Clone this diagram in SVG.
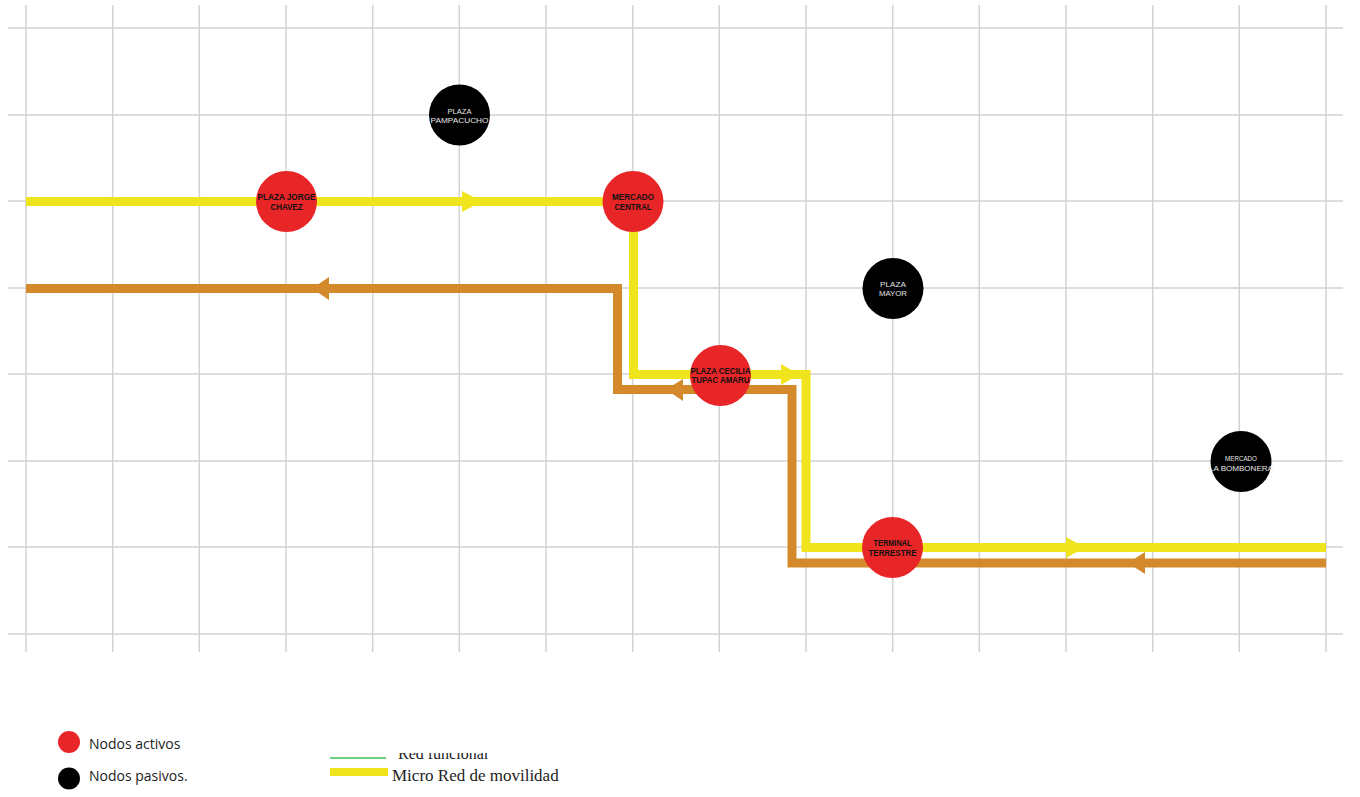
<svg xmlns="http://www.w3.org/2000/svg" width="1360" height="797" viewBox="0 0 1360 797">
<style>
.grid line{stroke:#d2d2d2;stroke-width:1.5}
.yl{fill:none;stroke:#f0e51c;stroke-width:9;stroke-linejoin:miter}
.ol{fill:none;stroke:#d4892b;stroke-width:9;stroke-linejoin:miter}
.ya{fill:#f0e51c}
.oa{fill:#d4892b}
.act{fill:#e82527}
.pas{fill:#000}
.ta{font-family:"Liberation Sans",Arial,sans-serif;font-weight:bold;font-size:8.5px;fill:#111;text-anchor:middle}
.tp{font-family:"Liberation Sans",Arial,sans-serif;font-size:7.5px;fill:#e6e6e6;text-anchor:middle}
.lg{font-family:"Open Sans","Liberation Sans",sans-serif;font-size:14px;fill:#222}
.ls{font-family:"Liberation Serif","Times New Roman",serif;font-size:17px;fill:#222}
</style>
<defs>
<clipPath id="cutRed"><rect x="390" y="753" width="120" height="7"/></clipPath>
</defs>
<rect width="1360" height="797" fill="#fff"/>
<g class="grid">
<line x1="26" y1="5" x2="26" y2="652"/>
<line x1="112.7" y1="5" x2="112.7" y2="652"/>
<line x1="199.3" y1="5" x2="199.3" y2="652"/>
<line x1="286" y1="5" x2="286" y2="652"/>
<line x1="372.7" y1="5" x2="372.7" y2="652"/>
<line x1="459.3" y1="5" x2="459.3" y2="652"/>
<line x1="546" y1="5" x2="546" y2="652"/>
<line x1="632.7" y1="5" x2="632.7" y2="652"/>
<line x1="719.3" y1="5" x2="719.3" y2="652"/>
<line x1="806" y1="5" x2="806" y2="652"/>
<line x1="892.7" y1="5" x2="892.7" y2="652"/>
<line x1="979.3" y1="5" x2="979.3" y2="652"/>
<line x1="1066" y1="5" x2="1066" y2="652"/>
<line x1="1152.7" y1="5" x2="1152.7" y2="652"/>
<line x1="1239.3" y1="5" x2="1239.3" y2="652"/>
<line x1="1326" y1="5" x2="1326" y2="652"/>
<line x1="8" y1="28" x2="1343" y2="28"/>
<line x1="8" y1="115" x2="1343" y2="115"/>
<line x1="8" y1="201" x2="1343" y2="201"/>
<line x1="8" y1="288" x2="1343" y2="288"/>
<line x1="8" y1="374" x2="1343" y2="374"/>
<line x1="8" y1="461" x2="1343" y2="461"/>
<line x1="8" y1="547" x2="1343" y2="547"/>
<line x1="8" y1="634" x2="1343" y2="634"/>
</g>
<g id="connectors">
<path class="ol" d="M26 288.5 H617.5 V389.5 H792 V563 H1326"/>
<path class="yl" d="M26 201.5 H633.5 V374.5 H806 V547.5 H1326"/>
<polygon class="ya" points="462,191 482,201.5 462,212"/>
<polygon class="ya" points="781,364 799,374.5 781,385"/>
<polygon class="ya" points="1066,537 1085,547.5 1066,558"/>
<polygon class="oa" points="329,277 312,288.5 329,300"/>
<polygon class="oa" points="683,379 666,389.5 683,401"/>
<polygon class="oa" points="1145,552 1128,563 1145,574"/>
</g>
<g id="n-jorge">
<circle class="act" cx="286.5" cy="201.5" r="30.5"/>
<text class="ta" x="286.5" y="200" textLength="58" lengthAdjust="spacingAndGlyphs">PLAZA JORGE</text>
<text class="ta" x="286.5" y="209.5" textLength="32" lengthAdjust="spacingAndGlyphs">CHAVEZ</text>
</g>
<g id="n-mercado-central">
<circle class="act" cx="633" cy="201.5" r="30.5"/>
<text class="ta" x="633" y="200" textLength="42" lengthAdjust="spacingAndGlyphs">MERCADO</text>
<text class="ta" x="633" y="209.5" textLength="37" lengthAdjust="spacingAndGlyphs">CENTRAL</text>
</g>
<g id="n-cecilia">
<circle class="act" cx="720.5" cy="375.5" r="30.5"/>
<text class="ta" x="720.5" y="373.5" textLength="60" lengthAdjust="spacingAndGlyphs">PLAZA CECILIA</text>
<text class="ta" x="720.5" y="383" textLength="58" lengthAdjust="spacingAndGlyphs">TUPAC AMARU</text>
</g>
<g id="n-terminal">
<circle class="act" cx="892.5" cy="547.5" r="30.5"/>
<text class="ta" x="892.5" y="546" textLength="38" lengthAdjust="spacingAndGlyphs">TERMINAL</text>
<text class="ta" x="892.5" y="555.5" textLength="48" lengthAdjust="spacingAndGlyphs">TERRESTRE</text>
</g>
<g id="n-pampacucho">
<circle class="pas" cx="459.5" cy="115" r="30.5"/>
<text class="tp" x="459.5" y="113.5" textLength="24" lengthAdjust="spacingAndGlyphs">PLAZA</text>
<text class="tp" x="459.5" y="123" textLength="58" lengthAdjust="spacingAndGlyphs">PAMPACUCHO</text>
</g>
<g id="n-plaza-mayor">
<circle class="pas" cx="893" cy="288.5" r="30.5"/>
<text class="tp" x="893" y="286.5" textLength="26" lengthAdjust="spacingAndGlyphs">PLAZA</text>
<text class="tp" x="893" y="296" textLength="28" lengthAdjust="spacingAndGlyphs">MAYOR</text>
</g>
<g id="n-bombonera">
<circle class="pas" cx="1241" cy="461.5" r="30.5"/>
<text class="tp" x="1241" y="461" textLength="32" lengthAdjust="spacingAndGlyphs">MERCADO</text>
<text class="tp" x="1241" y="471" textLength="64" lengthAdjust="spacingAndGlyphs">LA BOMBONERA</text>
</g>
<g id="legend">
<circle class="act" cx="69" cy="742" r="11"/>
<text class="lg" x="89" y="749">Nodos activos</text>
<circle class="pas" cx="69" cy="778.5" r="11"/>
<text class="lg" x="89" y="781">Nodos pasivos.</text>
<line x1="330" y1="758" x2="386" y2="758" stroke="#3fbf5a" stroke-width="1.5"/>
<text class="ls" x="398" y="759" clip-path="url(#cutRed)" style="font-size:16px">Red funcional</text>
<rect x="330" y="768" width="58" height="8" fill="#f0e51c"/>
<text class="ls" x="392" y="781">Micro Red de movilidad</text>
</g>
</svg>
